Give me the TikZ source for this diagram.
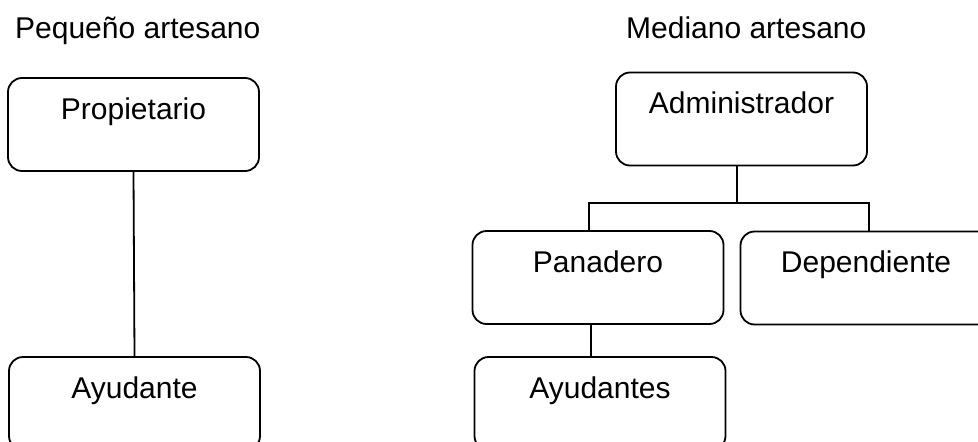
\documentclass[tikz,border=0pt]{standalone}
\usepackage{fontspec}
\setmainfont{Liberation Sans}
\begin{document}
\begin{tikzpicture}[x=1pt,y=-1pt,
  orgbox/.style={draw=black, line width=1.8pt, rounded corners=14pt,
    minimum width=251pt, minimum height=93pt, inner sep=0pt,
    text height=41pt, text depth=52pt, font=\fontsize{30}{36}\selectfont},
  titletext/.style={anchor=base west, inner sep=0pt, font=\fontsize{30}{36}\selectfont},
  link/.style={draw=black, line width=1.8pt}]
\useasboundingbox (0,0) rectangle (978,442);
\clip (0,0) rectangle (978,442);
% titles
\node[titletext] (t1) at (15,38) {Pequeño artesano};
\node[titletext] (t2) at (626,38) {Mediano artesano};
% left chart
\node[orgbox] (prop) at (133.5,124.5) {Propietario};
\node[orgbox] (ayud) at (134.5,403.5) {Ayudante};
\draw[link] (prop.south) -- (ayud.north);
% right chart
\node[orgbox] (adm) at (741.5,119) {Administrador};
\node[orgbox] (pan) at (598,277.5) {Panadero};
\node[orgbox] (dep) at (866,278) {Dependiente};
\node[orgbox] (ayus) at (600,403.5) {Ayudantes};
\coordinate (trunk) at (737,203);
\coordinate (busL) at (589,203);
\coordinate (busR) at (869,203);
\draw[link] (adm.south -| trunk) -- (trunk);
\draw[link] (busL |- pan.north) -- (busL) -- (busR) -- (busR |- dep.north);
\coordinate (sub) at (591,340);
\draw[link] (pan.south -| sub) -- (ayus.north -| sub);
\end{tikzpicture}
\end{document}
